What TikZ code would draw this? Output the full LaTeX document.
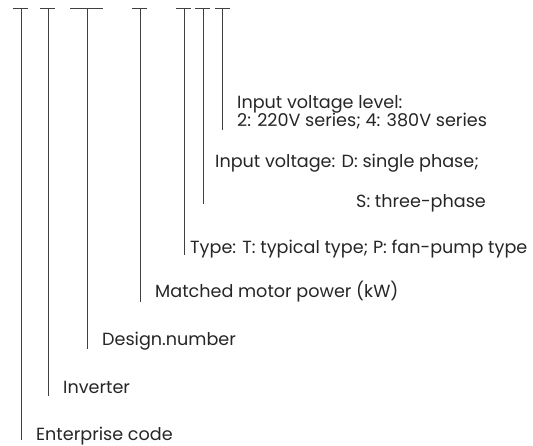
\documentclass[tikz,border=0pt]{standalone}
\usepackage{fontspec}
\setmainfont{Poppins}
\begin{document}
\begin{tikzpicture}[x=1pt,y=-1pt,
  lead/.style={draw=black!75,line width=0.9pt},
  lbl/.style={anchor=base west,inner sep=0pt,font=\fontsize{17.6}{20}\selectfont,text=black!85}]
\useasboundingbox (0,0) rectangle (533,446);
% T-bars (top bars) and stems
\foreach \n/\a/\b/\s/\e in {1/13/28/21/440, 2/40/55/48/396, 3/70/103/87/349, 4/132/147/140/302, 5/176/191/184/255, 6/195/210/203/204, 7/215/230/222/130}{
  \coordinate (l\n) at (\a,8);
  \coordinate (r\n) at (\b,8);
  \coordinate (t\n) at (\s,8);
  \coordinate (e\n) at (\s,\e);
  \draw[lead] (l\n) -- (r\n);
  \draw[lead] (t\n) -- (e\n);
}
\node[lbl] (v1) at (237,109) {Input voltage level:};
\node[lbl] (v2) at (237,126.5) {2: 220V series; 4: 380V series};
\node[lbl] (ip) at (215,168) {Input voltage: D: single phase;};
\node[lbl] (s3) at (356,208) {S: three-phase};
\node[lbl] (ty) at (190,254) {Type: T: typical type; P: fan-pump type};
\node[lbl] (mm) at (155,298) {Matched motor power (kW)};
\node[lbl] (dn) at (102,345) {Design.number};
\node[lbl] (iv) at (63,393) {Inverter};
\node[lbl] (ec) at (36,440) {Enterprise code};
\end{tikzpicture}
\end{document}
